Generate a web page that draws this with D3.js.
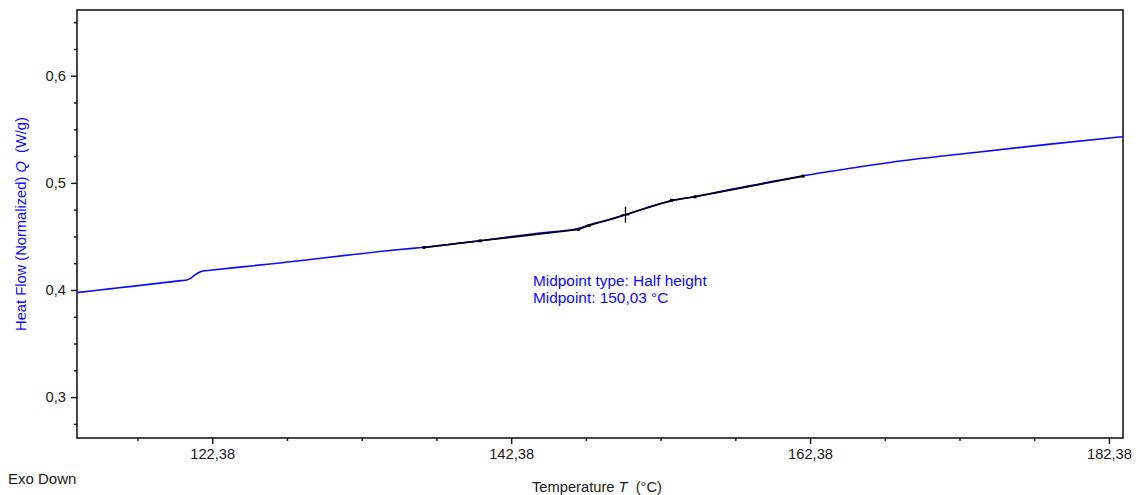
<!DOCTYPE html>
<html>
<head>
<meta charset="utf-8">
<script src="https://cdn.jsdelivr.net/npm/d3@7"></script>
<style>
  html, body { margin: 0; padding: 0; background: #fff; }
  svg { display: block; font-family: "Liberation Sans", Arial, sans-serif; }
</style>
</head>
<body>
<svg id="chart" width="1140" height="495"></svg>
<script>
// Measured DSC signal: temperature (°C) and normalized heat flow (W/g)
const temperature = [113.33, 115.5, 117.0, 119.0, 120.3, 120.67, 120.89, 121.22, 121.49, 121.76, 122.23, 126.25, 134.95,
  136.55, 140.30, 144.31, 146.86, 147.59, 149.00, 150.07, 151.68, 153.09, 154.69,
  156.36, 161.92, 165.07, 168.41, 172.90, 178.45, 183.32];
const heatFlow = [0.3975, 0.4010, 0.4034, 0.4066, 0.4087, 0.4093, 0.4107, 0.4140, 0.4163, 0.4177, 0.4184, 0.4243, 0.4378,
  0.4399, 0.4460, 0.4532, 0.4574, 0.4607, 0.4658, 0.4705, 0.4780, 0.4831, 0.4873,
  0.4918, 0.5067, 0.5136, 0.5204, 0.5276, 0.5362, 0.5431];

// Glass-transition construction (tangents through onset / inflection / end)
const fitTemperature = [136.55, 140.30, 146.88, 147.59, 150.03, 153.12, 154.69, 161.92];
const fitHeatFlow = [0.4397, 0.4459, 0.4565, 0.4602, 0.4702, 0.4837, 0.4870, 0.5063];
const midpointT = 150.03;
const midpointQ = 0.4702;

// Axis ticks
const xMajorTicks = [122.38, 142.38, 162.38, 182.38];
const xMinorStep = 5;
const yMajorTicks = [0.3, 0.4, 0.5, 0.6];
const yMinorStep = 0.025;

const annotationLines = ["Midpoint type: Half height", "Midpoint: 150,03 °C"];

const svg = d3.select("#chart");
const plot = { left: 77, top: 10, right: 1123, bottom: 438 };

const x = d3.scaleLinear().domain([113.33, 183.32]).range([plot.left, plot.right]);
const y = d3.scaleLinear().domain([0.2618, 0.6614]).range([plot.bottom, plot.top]);

const locale = d3.formatLocale({ decimal: ",", thousands: ".", grouping: [3], currency: ["", " €"] });
const fmtX = locale.format(".2f");
const fmtY = locale.format(".1f");

const axisColor = "#1a1a1a";
const blue = "#0a0aff";

// Minor tick positions
const [x0, x1] = x.domain();
const xMinor = [];
for (let t = xMajorTicks[0] - Math.ceil((xMajorTicks[0] - x0) / xMinorStep) * xMinorStep; t <= x1; t += xMinorStep) {
  if (t >= x0 && !xMajorTicks.some(m => Math.abs(m - t) < 1e-6)) xMinor.push(t);
}
const [y0, y1] = y.domain();
const yMinor = [];
for (let v = 0.25; v <= y1; v += yMinorStep) {
  const r = Math.round(v * 1000) / 1000;
  if (r >= y0 && !yMajorTicks.some(m => Math.abs(m - r) < 1e-6)) yMinor.push(r);
}

// X axis
const xAxis = d3.axisBottom(x).tickValues(xMajorTicks).tickFormat(fmtX).tickSize(6).tickSizeOuter(0).tickPadding(5);
const gx = svg.append("g").attr("transform", `translate(0,${plot.bottom})`).call(xAxis);
gx.select(".domain").remove();
gx.selectAll(".tick line").attr("stroke", axisColor).attr("stroke-width", 1.5);
gx.selectAll(".tick text").attr("fill", "#1a1a1a").style("font-size", "14.7px");
const gxm = svg.append("g").attr("transform", `translate(0,${plot.bottom})`)
  .call(d3.axisBottom(x).tickValues(xMinor).tickFormat("").tickSize(3).tickSizeOuter(0));
gxm.select(".domain").remove();
gxm.selectAll(".tick line").attr("stroke", axisColor).attr("stroke-width", 1.5);

// Y axis
const yAxis = d3.axisLeft(y).tickValues(yMajorTicks).tickFormat(fmtY).tickSize(6).tickSizeOuter(0).tickPadding(5);
const gy = svg.append("g").attr("transform", `translate(${plot.left},0)`).call(yAxis);
gy.select(".domain").remove();
gy.selectAll(".tick line").attr("stroke", axisColor).attr("stroke-width", 1.5);
gy.selectAll(".tick text").attr("fill", "#1a1a1a").style("font-size", "14.7px");
const gym = svg.append("g").attr("transform", `translate(${plot.left},0)`)
  .call(d3.axisLeft(y).tickValues(yMinor).tickFormat("").tickSize(3).tickSizeOuter(0));
gym.select(".domain").remove();
gym.selectAll(".tick line").attr("stroke", axisColor).attr("stroke-width", 1.5);

// Plot frame
svg.append("rect")
  .attr("x", plot.left).attr("y", plot.top)
  .attr("width", plot.right - plot.left).attr("height", plot.bottom - plot.top)
  .attr("fill", "none").attr("stroke", axisColor).attr("stroke-width", 1.6);

// Heat flow curve
const curve = d3.line()
  .x((d, i) => x(temperature[i]))
  .y((d, i) => y(heatFlow[i]))
  .curve(d3.curveMonotoneX);
svg.append("path")
  .attr("d", curve(heatFlow))
  .attr("fill", "none").attr("stroke", blue).attr("stroke-width", 1.6);

// Tangent construction overlay
const fitLine = d3.line()
  .x((d, i) => x(fitTemperature[i]))
  .y((d, i) => y(fitHeatFlow[i]));
svg.append("path")
  .attr("d", fitLine(fitHeatFlow))
  .attr("fill", "none").attr("stroke", "#000").attr("stroke-width", 1.6)
  .attr("stroke-linejoin", "round");
svg.append("g").selectAll("rect")
  .data(fitTemperature.filter(t => t !== midpointT))
  .join("rect")
  .attr("x", t => x(t) - 1.5)
  .attr("y", (t) => y(fitHeatFlow[fitTemperature.indexOf(t)]) - 1.5)
  .attr("width", 3).attr("height", 3).attr("fill", "#000");

// Midpoint cross
const mx = x(midpointT), my = y(midpointQ);
svg.append("line").attr("x1", mx).attr("x2", mx).attr("y1", my - 8).attr("y2", my + 8)
  .attr("stroke", "#000").attr("stroke-width", 1.3);
svg.append("line").attr("x1", mx - 4).attr("x2", mx + 4).attr("y1", my).attr("y2", my)
  .attr("stroke", "#000").attr("stroke-width", 1.3);

// Annotation
svg.append("g").selectAll("text")
  .data(annotationLines)
  .join("text")
  .attr("x", 533).attr("y", (d, i) => 286 + i * 17)
  .attr("fill", blue).style("font-size", "15.4px")
  .text(d => d);

// Axis titles
const xt = svg.append("text")
  .attr("x", 597).attr("y", 492)
  .attr("text-anchor", "middle").attr("fill", "#1a1a1a").style("font-size", "14.7px");
xt.append("tspan").text("Temperature ");
xt.append("tspan").attr("font-style", "italic").text("T");
xt.append("tspan").text("\u00a0 (°C)");

const yt = svg.append("text")
  .attr("transform", `translate(25.5,${(plot.top + plot.bottom) / 2}) rotate(-90)`)
  .attr("text-anchor", "middle").attr("fill", blue).style("font-size", "14.7px");
yt.append("tspan").text("Heat Flow (Normalized) ");
yt.append("tspan").attr("font-style", "italic").text("Q");
yt.append("tspan").text("\u00a0 (W/g)");

svg.append("text")
  .attr("x", 8).attr("y", 484)
  .attr("fill", "#1a1a1a").style("font-size", "15px")
  .text("Exo Down");
</script>
</body>
</html>
